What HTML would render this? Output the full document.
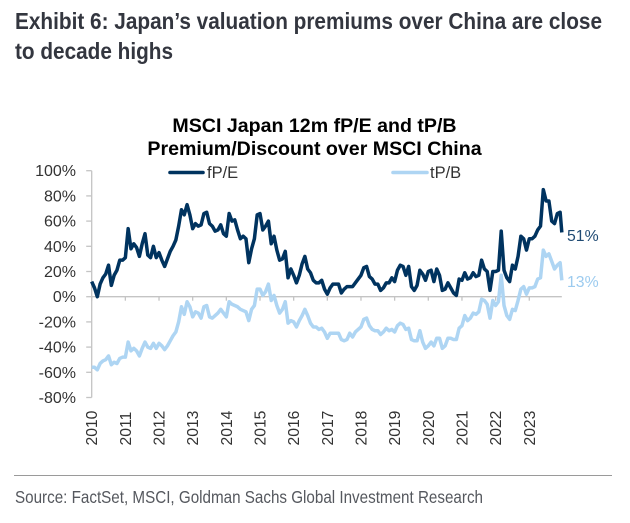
<!DOCTYPE html>
<html lang="en">
<head>
<meta charset="utf-8">
<title>Exhibit 6</title>
<style>
html,body{margin:0;padding:0;background:#fff;width:630px;height:523px;overflow:hidden}
svg{display:block;font-family:"Liberation Sans",Arial,sans-serif}
</style>
</head>
<body>
<svg id="chart" width="630" height="523" viewBox="0 0 630 523" xmlns="http://www.w3.org/2000/svg">
  <text x="15" y="29" font-size="23" font-weight="700" fill="#33363f" textLength="587" lengthAdjust="spacingAndGlyphs">Exhibit 6: Japan’s valuation premiums over China are close</text>
  <text x="15" y="59" font-size="23" font-weight="700" fill="#33363f" textLength="158" lengthAdjust="spacingAndGlyphs">to decade highs</text>
  <text x="314.5" y="132" font-size="19.6" font-weight="700" fill="#000" text-anchor="middle">MSCI Japan 12m fP/E and tP/B</text>
  <text x="314.5" y="155" font-size="19.6" font-weight="700" fill="#000" text-anchor="middle">Premium/Discount over MSCI China</text>
  <g id="axes"></g>
  <g id="marks"></g>
  <line x1="170" y1="172.5" x2="203" y2="172.5" stroke="#00335f" stroke-width="3.6" stroke-linecap="round"/>
  <text x="207" y="178" font-size="16.5" fill="#333">fP/E</text>
  <line x1="393" y1="172.5" x2="427" y2="172.5" stroke="#aed5f3" stroke-width="3.6" stroke-linecap="round"/>
  <text x="430" y="178" font-size="16.5" fill="#333">tP/B</text>
  <text x="567" y="241" font-size="15.8" fill="#1f4a73">51%</text>
  <text x="567" y="287" font-size="15.8" fill="#9ccbef">13%</text>
  <line x1="14" y1="475.5" x2="612" y2="475.5" stroke="#9a9a9a" stroke-width="1"/>
  <text x="15" y="503" font-size="17.5" fill="#55585e" textLength="468" lengthAdjust="spacingAndGlyphs">Source: FactSet, MSCI, Goldman Sachs Global Investment Research</text>
</svg>
<script>
const years = ["2010","2011","2012","2013","2014","2015","2016","2017","2018","2019","2020","2021","2022","2023"];
const yTicks = [100,80,60,40,20,0,-20,-40,-60,-80];
const fpe = [
12,7,0,10,15,18,25,9,17,21,29,29,
31,54,38,42,39,32,42,50,33,31,40,31,
35,29,24,30,36,40,45,56,69,65,73,65,
54,58,56,57,66,67,58,56,52,53,57,50,
48,66,60,61,53,46,48,46,27,38,46,65,
66,53,56,60,42,48,37,29,30,36,15,22,
17,11,17,26,32,22,19,13,11,11,13,6,
2,7,10,10,10,3,6,8,8,8,11,14,
17,23,24,16,14,10,10,5,7,11,11,15,
12,21,25,24,17,24,8,5,9,21,18,13,
20,21,12,22,17,5,6,11,7,3,1,14,
13,19,14,15,19,16,17,29,22,20,5,20,
20,21,52,21,15,12,25,22,32,48,46,37,
46,46,48,53,56,85,76,76,60,58,66,67,51
];
const tpb = [
-56,-56,-58,-53,-51,-50,-47,-54,-52,-53,-49,-48,
-48,-36,-43,-41,-43,-47,-41,-36,-40,-41,-37,-41,
-37,-39,-42,-39,-35,-31,-28,-20,-8,-14,-4,-8,
-16,-12,-13,-17,-8,-7,-16,-17,-15,-13,-10,-13,
-16,-4,-6,-7,-8,-10,-11,-12,-19,-10,-7,6,
6,1,4,10,-3,1,-7,-13,-10,-4,-21,-19,
-20,-24,-19,-15,-10,-15,-21,-24,-24,-26,-25,-28,
-33,-29,-29,-29,-29,-34,-35,-34,-29,-32,-28,-26,
-24,-18,-17,-23,-26,-27,-27,-30,-28,-25,-27,-26,
-28,-23,-21,-22,-26,-25,-34,-35,-35,-27,-36,-41,
-39,-36,-39,-33,-33,-41,-39,-33,-33,-34,-34,-25,
-23,-15,-19,-17,-13,-14,-12,-2,-3,-6,-17,-3,
-7,-4,17,-7,-15,-18,-10,-11,-3,6,8,2,
7,7,8,14,15,37,32,34,28,22,25,27,13
];

const NS = "http://www.w3.org/2000/svg";
const axes = document.getElementById("axes");
const marks = document.getElementById("marks");
const X0 = 91.7, YEAR_W = 33.66, Y0 = 296.7, PX_PER_PCT = 1.26;
const xYear = function (i) { return X0 + i * YEAR_W; };
const xMonth = function (i) { return X0 + Math.min(i, 167.6) * YEAR_W / 12; };
const yVal = function (v) { return Y0 - v * PX_PER_PCT; };

function line(x1, y1, x2, y2) {
  const el = document.createElementNS(NS, "line");
  el.setAttribute("x1", x1);
  el.setAttribute("y1", y1);
  el.setAttribute("x2", x2);
  el.setAttribute("y2", y2);
  el.setAttribute("stroke", "#c4c4c4");
  el.setAttribute("stroke-width", "1.3");
  axes.appendChild(el);
  return el;
}

const yAxis = line(X0, yVal(yTicks[0]), X0, yVal(yTicks[yTicks.length - 1]));


const xAxis = line(X0, yVal(0), xMonth(fpe.length - 1), yVal(0));



yTicks.forEach(function (v) {
  const t = line(X0 - 5.5, yVal(v), X0, yVal(v));
  
  
  const label = document.createElementNS(NS, "text");
  label.setAttribute("x", 76);
  label.setAttribute("y", yVal(v) + 5.5);
  label.setAttribute("text-anchor", "end");
  label.setAttribute("font-size", "16");
  label.setAttribute("fill", "#333");
  label.textContent = v + "%";
  
  
  axes.appendChild(label);
});

years.forEach(function (yr, i) {
  const t = line(xYear(i), yVal(0), xYear(i), yVal(0) + 4);
  
  
  const label = document.createElementNS(NS, "text");
  const lx = xYear(i) + 5.5, ly = 445.5;
  label.setAttribute("x", lx);
  label.setAttribute("y", ly);
  label.setAttribute("transform", "rotate(-90 " + lx + " " + ly + ")");
  label.setAttribute("font-size", "15.7");
  label.setAttribute("fill", "#333");
  label.textContent = yr;
  
  
  axes.appendChild(label);
});

function drawSeries(values, color, name) {
  const p = document.createElementNS(NS, "polyline");
  p.setAttribute("points", values.map(function (v, i) {
    return xMonth(i).toFixed(2) + "," + yVal(v).toFixed(2);
  }).join(" "));
  p.setAttribute("fill", "none");
  p.setAttribute("stroke", color);
  p.setAttribute("stroke-width", "3.5");
  p.setAttribute("stroke-linejoin", "round");
  
  
  marks.appendChild(p);
}
drawSeries(tpb, "#aed5f3", "line-tpb");
drawSeries(fpe, "#00335f", "line-fpe");
</script>
</body>
</html>
